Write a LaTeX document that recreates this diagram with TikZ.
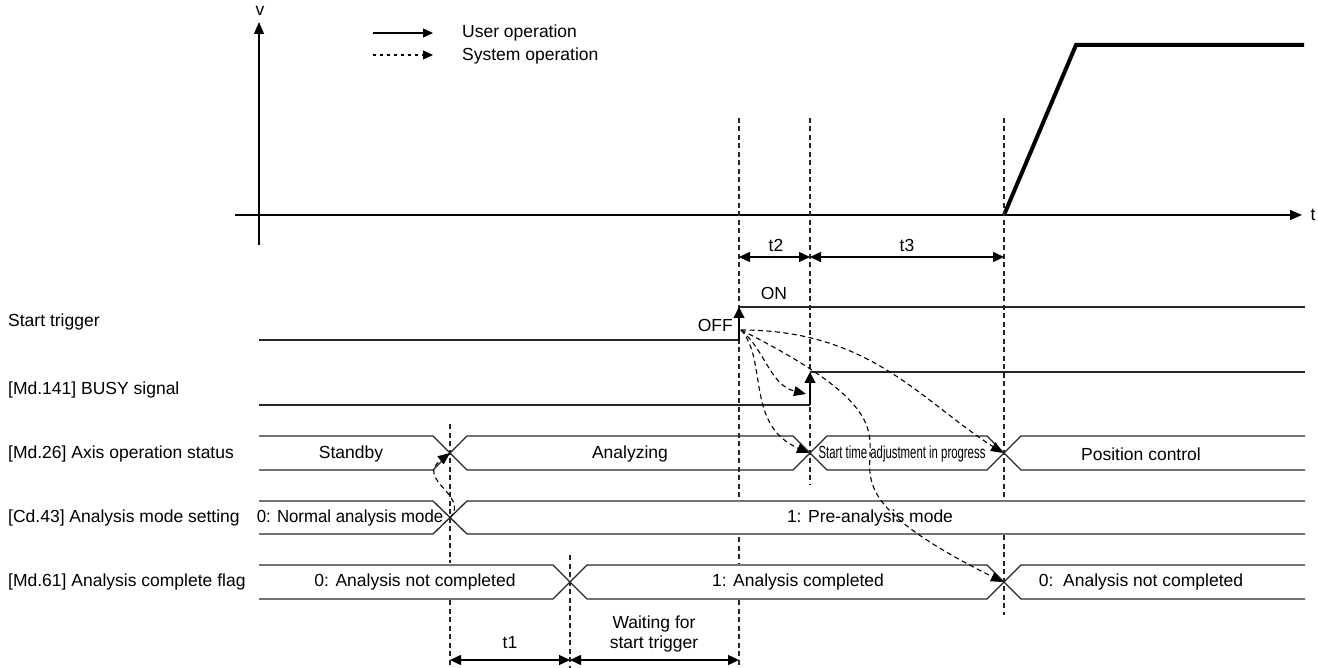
\documentclass[tikz,border=0pt]{standalone}
\usepackage{fontspec}
\setmainfont{Liberation Sans}
\usetikzlibrary{arrows.meta,positioning,calc}

\begin{document}
\begin{tikzpicture}[
    x=1pt, y=-1pt,
    font=\fontsize{17.5}{21}\selectfont,
    sig/.style={line width=1.3pt, draw=black!85},
    bus/.style={line width=1.3pt, draw=black!85},
    guide/.style={line width=1.1pt, dash pattern=on 5pt off 3.5pt, draw=black!85},
    axisarrow/.style={line width=1.3pt, -{Triangle[length=12pt,width=10pt]}},
    userarrow/.style={line width=1.3pt, -{Triangle[length=11pt,width=11pt]}},
    sysarrow/.style={line width=1.1pt, dash pattern=on 5pt off 3.5pt, -{Triangle[length=12pt,width=10pt]}},
    dimarrow/.style={line width=1.3pt, {Triangle[length=11pt,width=10pt]}-{Triangle[length=11pt,width=10pt]}},
    rowlabel/.style={anchor=west, inner sep=0pt},
    val/.style={inner sep=0pt}
]
\useasboundingbox (0,0) rectangle (1318,668);

% Speed axes and profile
\coordinate (vbot) at (259,245);
\coordinate (vtop) at (259,22);
\coordinate (tleft) at (235,215);
\coordinate (tright) at (1302,215);
\draw[axisarrow] (vbot) -- (vtop);
\draw[axisarrow] (tleft) -- (tright);
\node (vlbl) at (260,11) {v};
\node (tlbl) at (1313,215) {t};

\coordinate (vst) at (1004,215);
\coordinate (vacc) at (1076,45);
\coordinate (vend) at (1304,45);
\draw[line width=4pt, line join=miter] (vst) -- (vacc) -- (vend);

% Legend
\coordinate (lg1a) at (373,33);
\coordinate (lg1b) at (433,33);
\coordinate (lg2a) at (373,55);
\coordinate (lg2b) at (433,55);
\draw[userarrow, -{Triangle[length=10pt,width=9pt]}] (lg1a) -- (lg1b);
\draw[sysarrow, dash pattern=on 3pt off 4pt, -{Triangle[length=10pt,width=9pt]}] (lg2a) -- (lg2b);
\node[rowlabel] (lgUser) at (462,33) {User operation};
\node[rowlabel] (lgSys) at (462,56) {System operation};

% Timing guides
\draw[guide] (450,424) -- (450,563) (450,600) -- (450,668);
\draw[guide] (570,555) -- (570,668);
\draw[guide] (739,118) -- (739,497) (739,537) -- (739,563) (739,600) -- (739,668);
\draw[guide] (810,118) -- (810,485);
\draw[guide] (1004,118) -- (1004,497) (1004,535) -- (1004,615);

% Row labels
\node[rowlabel] (lblStart) at (8,322) {Start trigger};
\node[rowlabel] (lblBusy) at (8,390) {[Md.141] BUSY signal};
\node[rowlabel] (lblAxis) at (8,454) {[Md.26] Axis operation status};
\node[rowlabel] (lblMode) at (8,518) {[Cd.43] Analysis mode setting};
\node[rowlabel] (lblFlag) at (8,582) {[Md.61] Analysis complete flag};

% Start trigger
\coordinate (trgLo) at (739,340);
\coordinate (trgHi) at (739,307);
\draw[sig] (259,340) -- (trgLo);
\draw[userarrow] (trgLo) -- (trgHi);
\draw[sig] (trgHi) -- (1305,307);
\node[anchor=east, val] (offTxt) at (733,325) {OFF};
\node[val] (onTxt) at (774,293) {ON};

% BUSY signal
\coordinate (busyLo) at (810,405);
\coordinate (busyHi) at (810,372);
\draw[sig] (259,405) -- (busyLo);
\draw[userarrow] (busyLo) -- (busyHi);
\draw[sig] (busyHi) -- (1305,372);

% Axis operation status
\draw[bus] (259,436) -- (433,436) -- (467,470) -- (793,470) -- (827,436) -- (987,436) -- (1021,470) -- (1305,470);
\draw[bus] (259,470) -- (433,470) -- (467,436) -- (793,436) -- (827,470) -- (987,470) -- (1021,436) -- (1305,436);
\node[val] (stStandby) at (351,454) {Standby};
\node[val] (stAnalyzing) at (630,454) {Analyzing};
\node[val] (stAdjust) at (902,454) {\scalebox{0.65}[1]{Start time adjustment in progress}};
\node[val] (stPosition) at (1141,454) {Position control};

% Analysis mode setting
\draw[bus] (259,501) -- (433,501) -- (467,534) -- (1305,534);
\draw[bus] (259,534) -- (433,534) -- (467,501) -- (1305,501);
\node[val] (mdNormal) at (350,518) {\scalebox{0.96}[1]{0: Normal analysis mode}};
\node[val] (mdPre) at (870,518) {1: Pre-analysis mode};

% Analysis complete flag
\draw[bus] (259,565) -- (553,565) -- (587,599) -- (987,599) -- (1021,565) -- (1305,565);
\draw[bus] (259,599) -- (553,599) -- (587,565) -- (987,565) -- (1021,599) -- (1305,599);
\node[val] (flNot) at (415,582) {0: Analysis not completed};
\node[val] (flDone) at (798,582) {1: Analysis completed};
\node[val] (flNot2) at (1141,582) {0:\ \ Analysis not completed};

% System operations
\coordinate (src) at (741,330);
\coordinate (busyIn) at (806,394);
\coordinate (ax1) at (450,453);
\coordinate (ax2) at (809,453);
\coordinate (ax3) at (1003,453);
\coordinate (cd1) at (450,518);
\coordinate (md2) at (1003,582);
\draw[sysarrow] (cd1) .. controls (470,495) and (415,480) .. (ax1);
\draw[sysarrow] (src) .. controls (765,350) and (770,385) .. (busyIn);
\draw[sysarrow] (src) .. controls (768,360) and (745,425) .. (ax2);
\draw[sysarrow] (src) .. controls (870,330) and (920,400) .. (ax3);
\draw[sysarrow] (src) .. controls (1002,461) and (740,451) .. (md2);

% Time spans
\coordinate (d2a) at (739,257);
\coordinate (d2b) at (810,257);
\coordinate (d3b) at (1004,257);
\coordinate (d1a) at (450,660);
\coordinate (d1b) at (570,660);
\coordinate (dwb) at (739,660);
\draw[dimarrow] (d2a) -- (d2b);
\draw[dimarrow] (d2b) -- (d3b);
\draw[dimarrow] (d1a) -- (d1b);
\draw[dimarrow] (d1b) -- (dwb);
\node[val] (lt2) at (776,245) {t2};
\node[val] (lt3) at (907,245) {t3};
\node[val] (lt1) at (510,643) {t1};
\node[val, align=center] (lwait) at (654,634) {Waiting for\\[-1pt]start trigger};

\end{tikzpicture}
\end{document}
